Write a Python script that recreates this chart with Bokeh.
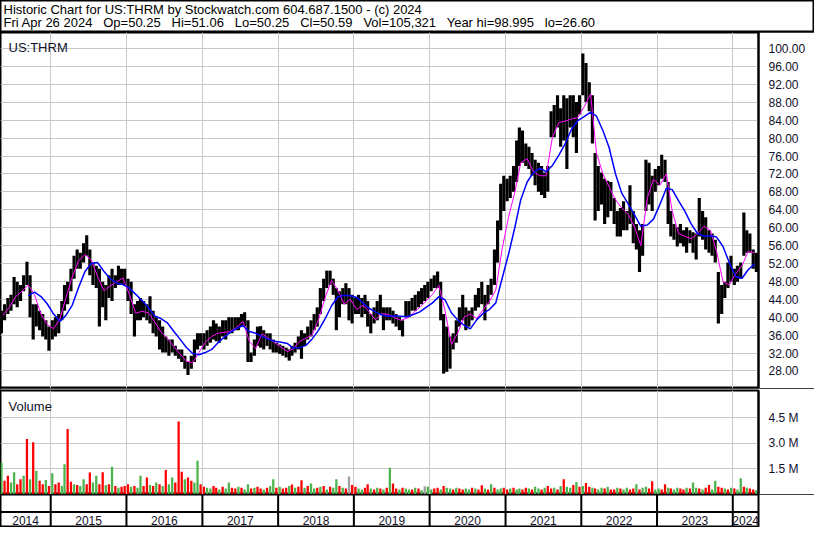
import pandas as pd
from bokeh.plotting import figure
from bokeh.layouts import column
from bokeh.models import Range1d, FixedTicker, PrintfTickFormatter, Label, Span, ColumnDataSource
from bokeh.embed import file_html
from bokeh.resources import INLINE
from bokeh.core.properties import value

# ---------------- data ----------------
FIRST_MONTH = "2014-05-01"   # half-month price ranges, May 2014 .. Apr 2024 (two per month)
bar_high = [
    41.45, 42.9, 44.3, 45.0, 49.0, 47.9, 47.2, 49.35, 52.4, 49.35, 42.9, 42.9, 41.45, 40.7, 39.3, 37.9,
    39.3, 40.0, 40.7, 43.6, 47.2, 47.9, 50.8, 53.7, 55.1, 54.4, 56.5, 58.3, 55.1, 52.2, 51.5, 50.8, 47.9, 47.2, 49.35, 50.8, 49.35, 51.5, 50.8, 50.8,
    48.6, 47.9, 42.9, 43.6, 44.3, 43.6, 42.9, 44.7, 41.45, 40.0, 39.3, 37.9, 35.7, 35.0, 35.0, 33.6, 32.8, 32.8, 31.4, 30.0, 31.4, 35.0, 36.4, 36.4,
    36.4, 37.1, 37.9, 39.3, 38.6, 37.9, 39.3, 39.3, 40.0, 40.0, 40.0, 40.0, 40.7, 41.1, 39.3, 32.1, 35.0, 37.9, 38.0, 37.1, 36.4, 36.4, 35.0, 34.3,
    33.9, 33.6, 33.2, 32.8, 33.6, 34.3, 35.7, 37.1, 36.4, 37.9, 39.3, 40.7, 42.2, 46.5, 48.6, 50.4, 50.4, 48.6, 46.5, 45.8, 46.5, 47.6, 46.5, 45.0,
    44.3, 45.0, 44.3, 45.0, 43.6, 40.7, 42.2, 43.6, 45.0, 42.2, 42.2, 42.2, 41.45, 40.7, 40.0, 39.3, 43.6, 43.6, 44.3, 45.0, 45.8, 46.5, 47.2, 47.9,
    48.6, 49.35, 50.2, 47.9, 40.7, 37.9, 35.7, 36.4, 39.3, 42.2, 45.0, 42.2, 41.45, 42.2, 45.0, 46.5, 47.9, 45.0, 47.2, 48.6, 55.1, 61.6, 69.8, 71.6,
    70.9, 71.6, 73.8, 79.5, 82.4, 81.7, 78.8, 78.1, 76.7, 75.2, 74.5, 73.8, 72.3, 73.8, 86.0, 87.4, 89.6, 86.7, 89.6, 88.9, 89.6, 89.6, 88.1, 89.6,
    98.9, 96.8, 92.5, 89.6, 76.7, 73.8, 72.3, 70.9, 70.5, 70.2, 66.6, 63.7, 64.4, 65.9, 63.7, 69.5, 63.7, 60.8, 59.4, 60.8, 75.2, 74.5, 71.6, 73.1,
    73.8, 76.3, 75.2, 70.2, 63.7, 60.8, 60.1, 60.8, 59.4, 60.1, 59.4, 59.0, 58.7, 66.6, 63.7, 62.3, 59.4, 58.7, 57.3, 50.1, 47.2, 47.9, 52.2, 53.7,
    50.8, 51.5, 52.2, 63.4, 59.4, 58.7, 55.1, 54.4]
bar_low = [
    36.42, 39.3, 40.7, 41.45, 42.9, 42.2, 43.6, 45.8, 47.2, 40.0, 35.0, 37.9, 37.1, 35.7, 35.0, 32.5,
    35.0, 35.7, 36.4, 39.3, 41.45, 42.9, 45.8, 48.6, 50.8, 50.8, 52.2, 53.7, 49.35, 47.2, 46.5, 37.9, 42.2, 39.3, 44.3, 43.6, 46.5, 47.2, 47.2, 47.2,
    43.6, 40.7, 35.7, 39.3, 39.3, 40.0, 39.3, 38.6, 36.4, 35.7, 32.8, 32.1, 32.1, 31.4, 32.1, 31.4, 30.7, 30.0, 28.5, 27.1, 28.5, 30.0, 32.8, 33.6,
    32.8, 33.6, 34.3, 35.0, 34.6, 34.3, 35.7, 35.0, 36.4, 36.4, 37.1, 37.1, 37.9, 37.9, 30.0, 30.0, 31.4, 33.6, 33.2, 32.8, 33.6, 32.8, 32.1, 32.1,
    31.8, 31.4, 31.0, 30.3, 31.4, 32.1, 32.8, 30.7, 33.6, 35.0, 35.7, 37.1, 37.9, 40.7, 43.6, 46.5, 47.2, 45.0, 37.1, 40.0, 42.9, 42.9, 39.3, 38.6,
    40.7, 40.7, 40.0, 40.7, 37.9, 36.4, 38.6, 39.3, 40.7, 37.1, 39.3, 39.3, 38.6, 37.9, 37.1, 35.7, 40.0, 40.0, 41.45, 41.45, 42.2, 42.9, 43.6, 44.3,
    45.8, 46.5, 46.5, 39.3, 27.4, 27.8, 28.5, 32.8, 34.3, 37.9, 39.3, 37.1, 37.9, 39.3, 41.45, 42.2, 42.9, 39.3, 42.9, 45.0, 47.2, 52.2, 59.4, 63.7,
    65.9, 66.6, 68.0, 70.2, 73.8, 74.5, 73.8, 73.1, 71.6, 69.5, 68.0, 67.3, 66.6, 68.0, 80.2, 80.2, 82.4, 78.1, 79.5, 73.1, 82.4, 80.2, 76.7, 85.3,
    89.6, 88.1, 86.0, 78.8, 61.6, 63.7, 65.2, 60.8, 62.3, 63.7, 60.8, 58.0, 58.0, 59.4, 59.4, 60.8, 56.5, 55.1, 50.1, 53.7, 63.7, 65.2, 63.7, 68.0,
    69.5, 70.9, 70.2, 60.8, 58.0, 57.3, 55.8, 56.5, 55.8, 54.4, 56.5, 54.4, 52.9, 58.0, 57.3, 55.1, 54.4, 53.7, 52.2, 38.6, 40.7, 44.3, 46.5, 47.9,
    47.2, 47.9, 48.6, 53.7, 54.4, 54.4, 50.8, 50.1]
# short moving average (magenta), monthly, May 2014 .. Apr 2024
ma_short = [
    40.4, 42.2, 44.5, 45.8, 47.2, 45.0, 40.7, 38.4,
    37.4, 39.7, 44.3, 49.0, 52.6, 54.0, 52.8, 49.1, 45.9, 47.0, 47.9, 48.8,
    45.1, 40.9, 41.3, 41.0, 39.0, 36.7, 35.3, 33.5, 31.8, 30.2, 29.8, 32.1,
    34.4, 35.7, 36.4, 36.6, 36.8, 37.7, 39.1, 34.6, 33.0, 36.3, 35.3, 34.3,
    33.3, 32.3, 33.0, 34.6, 35.3, 36.1, 39.5, 44.3, 48.2, 46.1, 42.9, 44.0,
    41.7, 42.7, 41.2, 39.4, 40.8, 40.6, 39.9, 39.3, 39.8, 41.0, 42.2, 43.6,
    45.1, 47.1, 41.5, 33.9, 36.4, 40.0, 40.7, 39.7, 41.7, 43.5, 46.1, 55.1,
    62.3, 68.0, 74.5, 75.4, 72.5, 71.6, 71.6, 80.2, 83.5, 83.8, 84.3, 84.6,
    87.0, 89.9, 76.7, 72.0, 69.1, 66.2, 64.4, 63.0, 60.1, 56.0, 66.6, 70.8,
    69.5, 72.0, 63.7, 58.7, 58.1, 57.5, 58.7, 60.3, 59.4, 54.7, 47.9, 47.2,
    49.7, 51.5, 54.7, 54.4]
# long moving average (blue), monthly, Sep 2014 .. Apr 2024
LONG_FIRST_MONTH = "2014-09-01"
ma_long = [
    44.8, 45.6, 44.6, 43.0,
    40.7, 39.1, 40.4, 42.7, 46.6, 50.2, 52.0, 52.2, 50.2, 48.6, 47.6, 47.3,
    46.5, 45.1, 43.8, 42.2, 40.3, 39.7, 38.8, 36.9, 35.1, 33.3, 31.9, 31.6,
    32.1, 32.8, 34.2, 35.5, 36.6, 37.5, 38.1, 36.8, 36.4, 35.7, 35.1, 34.6,
    34.4, 34.1, 33.1, 33.2, 33.7, 35.2, 37.1, 39.6, 42.5, 44.5, 44.9, 44.8,
    44.4, 43.1, 42.0, 41.2, 40.5, 40.2, 40.3, 40.2, 40.1, 40.6, 41.2, 42.2,
    43.2, 44.6, 43.9, 41.0, 39.4, 38.2, 37.4, 39.4, 40.9, 41.7, 43.2, 48.6,
    54.0, 60.1, 66.2, 70.2, 72.3, 73.3, 72.5, 73.9, 76.2, 78.7, 82.0, 83.9,
    84.8, 85.8, 84.9, 81.7, 77.9, 72.0, 67.7, 65.3, 62.8, 60.3, 60.6, 61.9,
    65.2, 68.8, 68.5, 66.0, 63.7, 60.8, 58.7, 58.1, 58.2, 57.9, 55.8, 52.2,
    49.1, 48.7, 50.6, 51.9]
# volume in millions, two readings per month, May 2014 .. Apr 2024
volume_m = [
    1.86, 0.8, 1.1, 0.7, 1.3, 0.6, 0.9, 1.1, 3.26, 0.9, 3.07, 1.4, 0.8, 0.6, 0.85, 0.5,
    1.25, 0.6, 0.7, 0.5, 1.77, 3.84, 0.75, 0.6, 0.55, 0.5, 0.9, 0.6, 1.29, 0.7, 1.1, 0.6, 1.3, 0.55, 0.6, 1.63, 0.5, 0.4, 0.45, 0.5,
    0.6, 0.45, 0.5, 0.4, 1.1, 0.5, 1.0, 0.55, 0.5, 0.7, 0.6, 0.5, 1.44, 0.6, 1.0, 0.7, 4.28, 1.34, 0.9, 1.0, 0.8, 0.7, 1.98, 0.6,
    0.45, 0.4, 0.35, 0.5, 0.4, 0.3, 0.45, 0.35, 0.7, 0.4, 0.35, 0.45, 0.4, 0.3, 0.6, 0.35, 0.4, 0.45, 0.35, 0.3, 0.4, 0.5, 0.9, 0.4,
    0.45, 0.35, 0.4, 0.5, 0.58, 0.4, 0.45, 0.83, 0.4, 0.5, 0.65, 0.35, 0.4, 0.45, 0.5, 0.3, 0.45, 0.4, 0.9, 0.5, 0.4, 0.35, 1.06, 0.55,
    0.45, 0.35, 0.3, 0.4, 0.6, 0.35, 0.3, 0.4, 0.35, 0.3, 0.4, 1.57, 0.65, 0.35, 0.3, 0.4, 0.35, 0.3, 0.3, 0.4, 0.35, 0.25, 0.48, 0.45,
    0.3, 0.35, 0.4, 0.3, 0.5, 0.4, 0.35, 0.3, 0.4, 0.35, 0.3, 0.35, 0.3, 0.4, 0.35, 0.3, 0.54, 0.35, 0.3, 0.6, 0.4, 0.3, 0.35, 0.4,
    0.3, 0.35, 0.4, 0.3, 0.35, 0.3, 0.4, 0.35, 0.3, 0.45, 0.35, 0.3, 0.4, 0.5, 0.35, 0.4, 0.3, 0.5, 0.9, 0.45, 0.4, 0.55, 0.73, 0.45,
    0.5, 0.67, 0.45, 0.4, 0.35, 0.3, 0.4, 0.35, 0.45, 0.3, 0.3, 0.4, 0.35, 0.3, 0.4, 0.3, 0.35, 0.6, 0.3, 0.4, 0.45, 0.35, 0.77, 0.3,
    0.35, 0.3, 0.6, 0.4, 0.35, 0.3, 0.4, 0.35, 0.3, 0.4, 0.35, 0.7, 0.4, 0.35, 0.3, 0.4, 0.55, 0.3, 0.8, 0.45, 0.4, 0.35, 0.3, 0.4,
    0.35, 0.3, 0.96, 0.45, 0.4, 0.35, 0.3, 0.25]
# R = down (red), G = up (green), N = unchanged (grey)
volume_dir = ("GRRGGRRGRGRGRRGR"
              "GRRGGRRGRGGRRGGRRGRGRGRR"
              "RGRGGRRGRGRGRGGRRRGRRGGR"
              "RGGRRGRGGRRGRGGRGRRGRGGR"
              "GRRGRGRRGRGGRGRGRGGRGRNR"
              "RGGRRGRGRGRGRRGRGGRGRGNG"
              "GRRGRGGRGRRGGRGRRGRGRGGR"
              "RGRGGRRGRGGRGRRGRGRGGRGR"
              "GRRGRGGRGRRGRGGRRGRGGRRG"
              "GRRGRGGRRGRGGRGRRGGRRGRG"
              "RGGRGRRG")
price_ticks = [28, 32, 36, 40, 44, 48, 52, 56, 60, 64, 68, 72, 76, 80, 84, 88, 92, 96, 100]
volume_ticks = [1.5, 3.0, 4.5]
years = list(range(2014, 2025))
view_start, view_end = "2014-05-04", "2024-05-04"
header_line1 = "Historic Chart for US:THRM by Stockwatch.com 604.687.1500 - (c) 2024"
header_line2 = ("Fri Apr 26 2024 \u00a0 Op=50.25 \u00a0 Hi=51.06 \u00a0 Lo=50.25 \u00a0 Cl=50.59"
                " \u00a0 Vol=105,321 \u00a0 Year hi=98.995 \u00a0 lo=26.60")
symbol = "US:THRM"

# ---------------- derived positions ----------------
DAY = 86400000.0
def ms(t):
    return pd.Timestamp(t).timestamp() * 1000.0

months = pd.date_range(FIRST_MONTH, periods=len(ma_short), freq="MS")
month_mid = [ms(m) + 14 * DAY for m in months]
long_months = pd.date_range(LONG_FIRST_MONTH, periods=len(ma_long), freq="MS")
long_mid = [ms(m) + 14 * DAY for m in long_months]
half_x = []
for m in months:
    half_x += [ms(m) + 7.5 * DAY, ms(m) + 22.5 * DAY]
dir_color = {"R": "#ff0000", "G": "#4db34d", "N": "#a0a0a0"}
vol_colors = [dir_color[c] for c in volume_dir]
x0, x1 = ms(view_start), ms(view_end)
year_starts = [ms(f"{y}-01-01") for y in years if x0 < ms(f"{y}-01-01") < x1]
year_centers = [(max(x0, ms(f"{y}-01-01")) + min(x1, ms(f"{y + 1}-01-01"))) / 2 for y in years]

# ---------------- layout ----------------
W, RIGHT = 814, 56
HEAD_H, PRICE_H, VOL_H, AXIS_H = 32, 356, 106, 33
FONT = "Liberation Sans"
TXT = "#10102a"
GRID = "#c8c8c8"
box_style = {"outline": "1px solid black", "outline-offset": "-1px"}

x_range = Range1d(start=x0, end=x1)

head = figure(width=W, height=HEAD_H, x_range=(0, 1), y_range=(0, 1), toolbar_location=None,
              output_backend="svg", x_axis_location=None, y_axis_location=None, min_border=0)
head.frame_align = False
head.grid.visible = False
head.outline_line_color = "black"
head.outline_line_width = 2
head.add_layout(Label(x=3, y=HEAD_H - 8.5, x_units="screen", y_units="screen", text=header_line1,
                      text_font=FONT, text_font_size="13px", text_color="black", text_baseline="middle"))
head.add_layout(Label(x=3, y=HEAD_H - 21.5, x_units="screen", y_units="screen", text=header_line2,
                      text_font=FONT, text_font_size="13px", text_color="black", text_baseline="middle"))


def panel(height, y_range, ticks, fmt):
    p = figure(width=W, height=height, x_range=x_range, y_range=y_range, x_axis_type="datetime",
               x_axis_location=None, y_axis_location="right", toolbar_location=None, output_backend="svg",
               min_border_left=0, min_border_top=0, min_border_bottom=0, min_border_right=RIGHT)
    p.xgrid.ticker = FixedTicker(ticks=year_starts)
    p.ygrid.ticker = FixedTicker(ticks=ticks)
    p.grid.grid_line_color = GRID
    p.grid.grid_line_width = 1
    p.outline_line_color = "black"
    p.outline_line_width = 2
    ax = p.yaxis[0]
    ax.ticker = FixedTicker(ticks=ticks)
    ax.formatter = PrintfTickFormatter(format=fmt)
    ax.major_tick_line_color = None
    ax.minor_tick_line_color = None
    ax.axis_line_color = "black"
    ax.axis_line_width = 2
    ax.major_label_standoff = 4
    ax.major_label_text_font = FONT
    ax.major_label_text_font_size = "12px"
    ax.major_label_text_color = TXT
    p.styles = box_style
    return p


pf = panel(PRICE_H, Range1d(24.07, 103.6), price_ticks, "%.2f")
psrc = ColumnDataSource(dict(x=half_x, hi=bar_high, lo=bar_low))
pf.vbar(x="x", top="hi", bottom="lo", width=15.2 * DAY, source=psrc, fill_color="#000000", line_color=None)
pf.line(x=month_mid, y=ma_short, line_color="#ff00ff", line_width=1)
pf.line(x=long_mid, y=ma_long, line_color="#0000ff", line_width=1.5)
pf.add_layout(Label(x=8, y=PRICE_H - 15, x_units="screen", y_units="screen", text=symbol,
                    text_font=FONT, text_font_size="13px", text_color=TXT, text_baseline="alphabetic"))

vf = panel(VOL_H, Range1d(0, 6.1), volume_ticks, "%.1f M")
vf.min_border_top = 2
vsrc = ColumnDataSource(dict(x=half_x, v=volume_m, c=vol_colors))
vf.vbar(x="x", top="v", bottom=0, width=11 * DAY, source=vsrc, fill_color="c", line_color=None)
vf.add_layout(Label(x=8, y=VOL_H - 2 - 16, x_units="screen", y_units="screen", text="Volume",
                    text_font=FONT, text_font_size="13px", text_color=TXT, text_baseline="alphabetic"))

af = figure(width=W, height=AXIS_H, x_range=x_range, y_range=Range1d(0, AXIS_H), x_axis_type="datetime",
            x_axis_location=None, y_axis_location=None, toolbar_location=None, output_backend="svg",
            min_border_left=0, min_border_top=0, min_border_bottom=0, min_border_right=RIGHT)
af.grid.visible = False
af.outline_line_color = "black"
af.outline_line_width = 2
af.segment(x0=year_starts, x1=year_starts, y0=0, y1=AXIS_H, line_color="black", line_width=2)
af.add_layout(Span(location=15.5, dimension="width", line_color="black", line_width=2))
af.text(x=year_centers, y=7.5, text=[str(y) for y in years], text_align="center", text_baseline="middle",
        text_font=value(FONT), text_font_size="12px", text_color=TXT)
af.styles = box_style

layout = column(head, pf, vf, af, spacing=0,
                styles={"outline": "2px solid black", "outline-offset": "-2px"})

open("out.html", "w").write(file_html(layout, INLINE))
